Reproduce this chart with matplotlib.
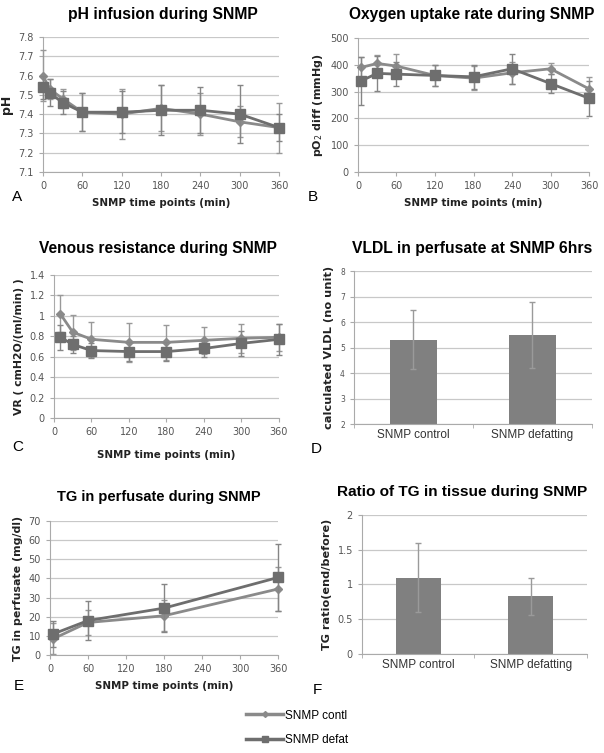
import matplotlib.pyplot as plt
from matplotlib.lines import Line2D

# panel A - pH
ph_t = [0, 10, 30, 60, 120, 180, 240, 300, 360]
ph_contl = [7.60, 7.53, 7.48, 7.41, 7.40, 7.43, 7.40, 7.36, 7.33]
ph_contl_err = [0.13, 0.05, 0.05, 0.10, 0.13, 0.12, 0.11, 0.08, 0.13]
ph_defat = [7.54, 7.51, 7.46, 7.41, 7.41, 7.42, 7.42, 7.40, 7.33]
ph_defat_err = [0.06, 0.07, 0.06, 0.10, 0.11, 0.13, 0.12, 0.15, 0.07]

# panel B - oxygen uptake
o2_t = [5, 30, 60, 120, 180, 240, 300, 360]
o2_contl = [390, 405, 395, 360, 350, 370, 385, 310]
o2_contl_err = [40, 30, 45, 40, 45, 40, 20, 45]
o2_defat = [340, 368, 365, 360, 355, 385, 330, 275]
o2_defat_err = [90, 65, 45, 40, 45, 55, 35, 65]

# panel C - venous resistance
vr_t = [10, 30, 60, 120, 180, 240, 300, 360]
vr_contl = [1.02, 0.84, 0.77, 0.74, 0.74, 0.76, 0.78, 0.79]
vr_contl_err = [0.18, 0.17, 0.17, 0.19, 0.17, 0.13, 0.14, 0.13]
vr_defat = [0.79, 0.72, 0.66, 0.65, 0.65, 0.68, 0.73, 0.77]
vr_defat_err = [0.12, 0.08, 0.07, 0.09, 0.09, 0.08, 0.12, 0.15]

# panel D - VLDL
groups = ['SNMP control', 'SNMP defatting']
vldl = [5.3, 5.48]
vldl_err = [1.16, 1.3]

# panel E - TG in perfusate
tg_t = [5, 60, 180, 360]
tg_contl = [8.5, 17, 20.5, 34.5]
tg_contl_err = [8, 6.5, 8, 11.5]
tg_defat = [11, 18, 24.5, 40.5]
tg_defat_err = [7, 10, 12.5, 17.5]

# panel F - TG ratio
tg_ratio = [1.1, 0.83]
tg_ratio_err = [0.5, 0.27]

C_LINE = '#8a8a8a'
D_LINE = '#6e6e6e'
GRID = '#c8c8c8'
TXT = '#555555'
TFONT = 'Liberation Sans'

fig = plt.figure(figsize=(6.04, 7.53), dpi=100)


def px(x, y):
    return x / 604, 1 - y / 753


def title(text, x, y, size):
    fig.text(*px(x, y), text, fontsize=size, fontweight='bold', family=TFONT,
             ha='center', va='center')


def style(ax):
    ax.yaxis.grid(True, color=GRID, lw=0.9)
    ax.set_axisbelow(True)
    for s in ['top', 'right']:
        ax.spines[s].set_visible(False)
    for s in ['left', 'bottom']:
        ax.spines[s].set_color('#aaaaaa')
    ax.tick_params(colors='#aaaaaa', labelcolor=TXT, labelsize=7, length=3, width=0.8)


def lines(ax, t, c, ce, d, de, ylim, yticks, ylabel, ysize=8):
    ax.errorbar(t, c, yerr=ce, color=C_LINE, marker='D', ms=4.5, lw=2,
                ecolor='#999999', elinewidth=1, capsize=2, clip_on=False, zorder=3)
    ax.errorbar(t, d, yerr=de, color=D_LINE, marker='s', ms=7, lw=2,
                ecolor='#858585', elinewidth=1, capsize=2, clip_on=False, zorder=4)
    ax.set_xlim(0, 360)
    ax.set_xticks([0, 60, 120, 180, 240, 300, 360])
    ax.set_ylim(*ylim)
    ax.set_yticks(yticks)
    ax.set_ylabel(ylabel, fontsize=ysize, fontweight='bold', color='#222222')
    style(ax)


def bars(ax, vals, errs, ylim, yticks, ylabel, ysize=8.1):
    ax.bar([0, 1], [v - ylim[0] for v in vals], bottom=ylim[0], width=0.4, color='#808080', zorder=2)
    ax.errorbar([0, 1], vals, yerr=errs, fmt='none', ecolor='#9a9a9a', elinewidth=1, capsize=2, zorder=3)
    ax.set_xlim(-0.5, 1.5)
    ax.set_xticks([0, 1])
    ax.set_xticklabels(groups, fontsize=8.5, color='#333333', family=TFONT)
    ax.set_xticks([-0.5, 0.5, 1.5], minor=True)
    ax.set_ylim(*ylim)
    ax.set_yticks(yticks)
    ax.set_ylabel(ylabel, fontsize=ysize, fontweight='bold', color='#222222')
    style(ax)
    ax.tick_params(axis='x', which='major', length=0, labelsize=8.5, labelcolor='#333333')
    ax.tick_params(axis='x', which='minor', length=3, color='#aaaaaa')


def xlab(ax, pad):
    ax.set_xlabel('SNMP time points (min)', fontsize=7.4, fontweight='bold',
                  color='#222222', labelpad=pad)


axA = fig.add_axes([0.0712, 0.7716, 0.391, 0.1793])
lines(axA, ph_t, ph_contl, ph_contl_err, ph_defat, ph_defat_err, (7.1, 7.8),
      [7.1, 7.2, 7.3, 7.4, 7.5, 7.6, 7.7, 7.8], 'pH', ysize=9)
xlab(axA, 5)
title('pH infusion during SNMP', 163, 15, 11.3)

axB = fig.add_axes([0.5927, 0.7716, 0.3825, 0.178])
lines(axB, o2_t, o2_contl, o2_contl_err, o2_defat, o2_defat_err, (0, 500),
      [0, 100, 200, 300, 400, 500], 'pO$_2$ diff (mmHg)', ysize=8)
xlab(axB, 5)
title('Oxygen uptake rate during SNMP', 472, 15, 11.2)

axC = fig.add_axes([0.0894, 0.4449, 0.3725, 0.19])
lines(axC, vr_t, vr_contl, vr_contl_err, vr_defat, vr_defat_err, (0, 1.4),
      [0, 0.2, 0.4, 0.6, 0.8, 1, 1.2, 1.4], 'VR ( cmH2O/(ml/min) )', ysize=7.8)
axC.set_yticklabels(['0', '0.2', '0.4', '0.6', '0.8', '1', '1.2', '1.4'])
xlab(axC, 9)
title('Venous resistance during SNMP', 158, 249, 11.2)

axD = fig.add_axes([0.586, 0.4369, 0.394, 0.2032])
bars(axD, vldl, vldl_err, (2, 8), [2, 3, 4, 5, 6, 7, 8], 'calculated VLDL (no unit)', ysize=8.2)
axD.tick_params(axis='y', labelsize=5.5)
title('VLDL in perfusate at SNMP 6hrs', 472, 249, 11.3)

axE = fig.add_axes([0.0828, 0.1301, 0.3775, 0.178])
lines(axE, tg_t, tg_contl, tg_contl_err, tg_defat, tg_defat_err, (0, 70),
      [0, 10, 20, 30, 40, 50, 60, 70], 'TG in perfusate (mg/dl)', ysize=7.9)
xlab(axE, 5)
title('TG in perfusate during SNMP', 159, 497, 10.5)

axF = fig.add_axes([0.5993, 0.1315, 0.3725, 0.1846])
bars(axF, tg_ratio, tg_ratio_err, (0, 2), [0, 0.5, 1, 1.5, 2], 'TG ratio(end/before)', ysize=8.1)
axF.set_yticklabels(['0', '0.5', '1', '1.5', '2'])
title('Ratio of TG in tissue during SNMP', 462, 492, 11.1)

# panel letters
for lbl, x, y in [('A', 12, 197), ('B', 308, 197), ('C', 12, 447),
                  ('D', 311, 449), ('E', 14, 686), ('F', 313, 690)]:
    fig.text(*px(x, y), lbl, fontsize=11, family=TFONT, ha='left', va='center')

handles = [Line2D([], [], color=C_LINE, marker='D', ms=3, lw=2.5),
           Line2D([], [], color=D_LINE, marker='s', ms=5, lw=2.5)]
fig.legend(handles, ['SNMP contl', 'SNMP defat'], loc='center left',
           bbox_to_anchor=px(235, 728), frameon=False,
           prop={'family': TFONT, 'size': 8.5},
           handlelength=3.2, handletextpad=0.1, labelspacing=1.1)

fig.savefig('out.png', dpi=100)
